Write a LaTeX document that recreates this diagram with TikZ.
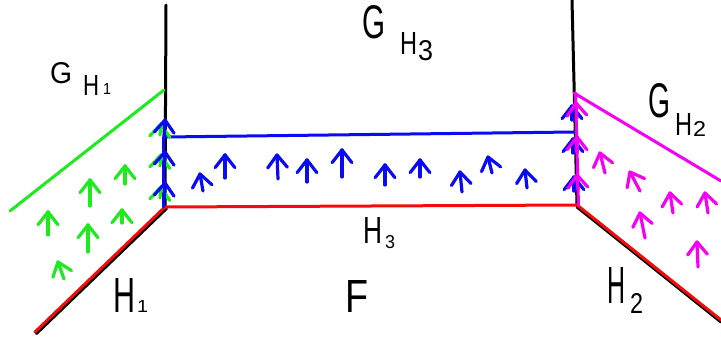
\documentclass[tikz,border=0pt]{standalone}
\usepackage{fontspec}
\setmainfont{Liberation Sans}
\usetikzlibrary{calc}
\definecolor{hgreen}{RGB}{30,235,30}
\definecolor{hblue}{RGB}{10,10,245}
\definecolor{hred}{RGB}{245,10,10}
\definecolor{hmag}{RGB}{245,0,245}
\newcommand{\harrow}[3]{%
  \draw[#1, arrowline] (#3) -- (#2);
  \draw[#1, arrowline] let \p1=($(#3)-(#2)$), \n1={atan2(\y1,\x1)} in
    ($(#2)+(\n1+38:16pt)$) -- (#2) -- ($(#2)+(\n1-38:16pt)$);}
\newcommand{\hw}[3]{\resizebox{#1pt}{#2pt}{#3}}
\begin{document}
\begin{tikzpicture}[x=1pt,y=-1pt,
  edge/.style={line width=3pt, line cap=round, line join=round},
  arrowline/.style={line width=3.2pt, line cap=round, line join=round},
  lbl/.style={inner sep=0pt, anchor=base west}]
\useasboundingbox[fill=white] (0,0) rectangle (721,340);
% corner coordinates
\coordinate (LT) at (166,5);
\coordinate (LC) at (165,207);
\coordinate (RT) at (572,0);
\coordinate (RC) at (577,205);
\coordinate (LB) at (35,332);
\coordinate (RB) at (721,320);
\coordinate (GA) at (10,211);
\coordinate (GB) at (164,90);
\coordinate (BA) at (165,137);
\coordinate (BB) at (574,132);
\coordinate (MA) at (574,93);
\coordinate (MB) at (721,181);
% black verticals
\draw[edge, black] (LT) -- (LC);
\draw[edge, black] (RT) -- (RC);
% red lines with black shadow
\draw[edge, black] ($(LC)+(1.5,1.5)$) -- ($(LB)+(1.5,1.5)$);
\draw[edge, black] ($(RC)+(0,2)$) -- ($(RB)+(0,2)$);
\draw[edge, hred] (LC) -- (LB);
\draw[edge, hred] (RC) -- (RB);
\draw[edge, hred] (LC) -- (RC);
% green boundary
\draw[edge, hgreen] (GA) -- (GB);
% blue boundary
\draw[edge, hblue] (BA) -- (BB);
\draw[edge, hblue] ($(LC)+(-1.5,0)$) -- ($(BA)+(-1.5,0)$);
% magenta boundary
\draw[edge, hmag] (MA) -- (MB);
\draw[edge, hmag] ($(RC)+(1.5,0)$) -- ($(MA)+(1.5,0)$);
% green arrows
\harrow{hgreen}{48,212}{48,235}
\harrow{hgreen}{90,180}{90,206}
\harrow{hgreen}{125,166}{125,184}
\harrow{hgreen}{88,225}{88,252}
\harrow{hgreen}{122,210}{122,223}
\harrow{hgreen}{58,262}{64,279}
\harrow{hgreen}{161,124}{160,135}
\harrow{hgreen}{161,155}{160,166}
\harrow{hgreen}{161,187}{160,198}
% blue arrows on the left vertical
\harrow{hblue}{165,120}{164,136}
\harrow{hblue}{165,152}{164,168}
\harrow{hblue}{165,183}{164,199}
% blue arrows in the band
\harrow{hblue}{200,174}{203,191}
\harrow{hblue}{225,155}{225,178}
\harrow{hblue}{277,155}{278,179}
\harrow{hblue}{307,160}{307,182}
\harrow{hblue}{342,150}{342,177}
\harrow{hblue}{385,165}{385,185}
\harrow{hblue}{420,160}{420,177}
\harrow{hblue}{460,172}{462,192}
\harrow{hblue}{488,157}{492,173}
\harrow{hblue}{525,170}{527,188}
% blue arrows on the right vertical
\harrow{hblue}{572,106}{572,120}
\harrow{hblue}{573,139}{573,153}
\harrow{hblue}{574,177}{574,191}
% magenta arrows on the right vertical
\harrow{hmag}{576,103}{577,118}
\harrow{hmag}{577,137}{577,152}
\harrow{hmag}{577,175}{578,190}
% magenta arrows
\harrow{hmag}{600,153}{605,173}
\harrow{hmag}{630,172}{640,191}
\harrow{hmag}{640,213}{645,238}
\harrow{hmag}{670,193}{673,213}
\harrow{hmag}{705,193}{708,213}
\harrow{hmag}{697,242}{698,267}
% labels
\node[lbl] (gh1) at (50,83) {\hw{22}{21}{G}\hspace{11pt}\raisebox{-12pt}{\hw{16}{20}{H}}\hspace{4pt}\raisebox{-12pt}{\hw{8}{11}{1}}};
\node[lbl] (gh3) at (362,38) {\hw{23}{33}{G}\hspace{15pt}\raisebox{-17pt}{\hw{17}{22}{H}}\hspace{1pt}\raisebox{-22pt}{\hw{15}{20}{3}}};
\node[lbl] (gh2) at (648,117) {\hw{22}{34}{G}\hspace{5pt}\raisebox{-18pt}{\hw{17}{22}{H}}\hspace{1pt}\raisebox{-20pt}{\hw{13}{15}{2}}};
\node[lbl] (h3) at (363,243) {\hw{19}{26}{H}\hspace{3pt}\raisebox{-5pt}{\hw{10}{13}{3}}};
\node[lbl] (f) at (345,312) {\hw{23}{32}{F}};
\node[lbl] (h2) at (607,303) {\hw{18}{36}{H}\hspace{5pt}\raisebox{-10pt}{\hw{13}{20}{2}}};
\node[lbl] (h1) at (113,312) {\hw{22}{34}{H}\hspace{2pt}\hw{11}{12}{1}};
\end{tikzpicture}
\end{document}
